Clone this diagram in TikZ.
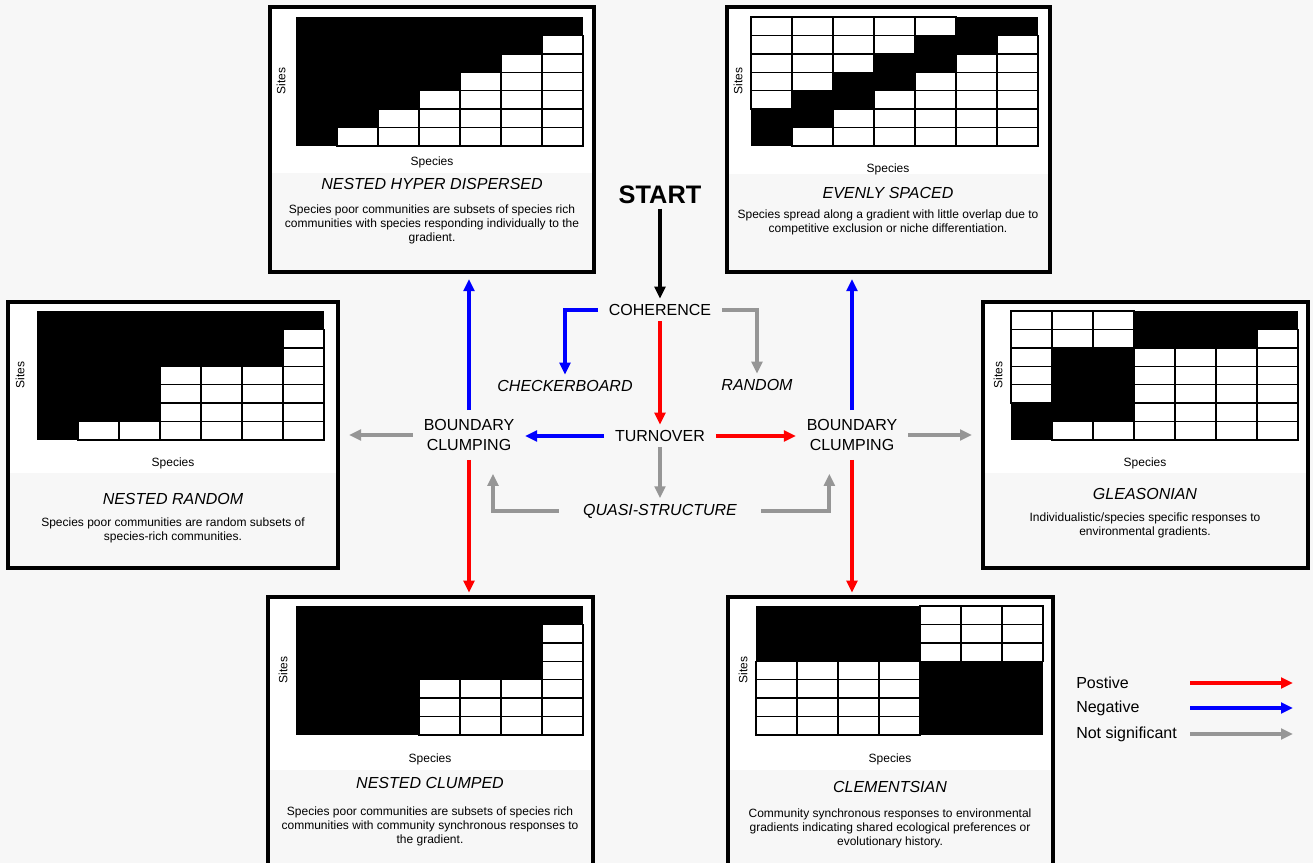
\documentclass[tikz,border=0pt]{standalone}
\usepackage{fontspec}
\setmainfont{Liberation Sans}
\usetikzlibrary{arrows.meta,fit}

\definecolor{bggrey}{RGB}{247,247,247}
\definecolor{posred}{RGB}{255,0,0}
\definecolor{negblue}{RGB}{0,0,255}
\definecolor{nsgrey}{RGB}{150,150,150}

\tikzset{
	panel/.style={draw=black, line width=2.5pt, inner sep=0pt},
	cellline/.style={draw=black, line width=1.1pt},
	sitelab/.style={rotate=90, font=\fontsize{9}{10}\selectfont},
	axislab/.style={font=\fontsize{9}{10}\selectfont},
	ptitle/.style={font=\fontsize{12}{14}\selectfont\itshape},
	pdesc/.style={align=center, font=\fontsize{9}{10.5}\selectfont},
	stage/.style={align=center, inner xsep=8pt, inner ysep=4pt, font=\fontsize{12}{14.3}\selectfont},
	outcome/.style={inner xsep=8pt, inner ysep=4pt, font=\fontsize{12}{14.3}\selectfont\itshape},
	legendlab/.style={anchor=west, inner sep=0pt, font=\fontsize{12}{14}\selectfont},
	flow/.style={line width=3pt, -{Triangle[length=9pt,width=8pt]}},
	posarrow/.style={flow, draw=posred},
	negarrow/.style={flow, draw=negblue},
	nsarrow/.style={flow, draw=nsgrey},
}

% black block with white cells given as row/first column/last column
\newcommand{\cellgrid}[3]{
	\fill[black] (#1,#2) rectangle ++(287,129);
	\foreach \r/\a/\b in {#3}
		\foreach \c in {\a,...,\b}
			\draw[cellline, fill=white] ({#1+(\c-1)*41},{#2+(\r-1)*18.43}) rectangle ++(41,18.43);
}

\begin{document}
\begin{tikzpicture}[x=0.75pt, y=-0.75pt]
	\clip (0,0) rectangle (1313,863);
	\fill[bggrey] (0,0) rectangle (1313,863);

	% nested hyper dispersed
	\fill[white] (270,7) rectangle (594,173);
	\cellgrid{296}{17}{2/7/7,3/6/7,4/5/7,5/4/7,6/3/7,7/2/7}
	\node[sitelab] (nhdsites) at (281,81) {Sites};
	\node[axislab] (nhdspecies) at (432,162) {Species};
	\node[ptitle] (nhdtitle) at (432,184) {NESTED HYPER DISPERSED};
	\node[pdesc] (nhddesc) at (432,224) {Species poor communities are subsets of species rich\\communities with species responding individually to the\\gradient.};
	\node[panel, fit={(270,7) (594,272)}] (nhd) {};

	% evenly spaced
	\fill[white] (727,7) rectangle (1050,174);
	\cellgrid{751}{17}{1/1/5,2/1/4,2/7/7,3/1/3,3/6/7,4/1/2,4/5/7,5/1/1,5/4/7,6/3/7,7/2/7}
	\node[sitelab] (essites) at (738,81) {Sites};
	\node[axislab] (esspecies) at (888,169) {Species};
	\node[ptitle] (estitle) at (888,193) {EVENLY SPACED};
	\node[pdesc] (esdesc) at (888,222) {Species spread along a gradient with little overlap due to\\competitive exclusion or niche differentiation.};
	\node[panel, fit={(727,7) (1050,272)}] (es) {};

	% nested random
	\fill[white] (8,302) rectangle (338,473);
	\cellgrid{37}{311}{2/7/7,3/7/7,4/4/7,5/4/7,6/4/7,7/2/7}
	\node[sitelab] (nrsites) at (20,375) {Sites};
	\node[axislab] (nrspecies) at (173,463) {Species};
	\node[ptitle] (nrtitle) at (173,499) {NESTED RANDOM};
	\node[pdesc] (nrdesc) at (173,530) {Species poor communities are random subsets of\\species-rich communities.};
	\node[panel, fit={(8,302) (338,568)}] (nr) {};

	% gleasonian
	\fill[white] (983,302) rectangle (1308,473);
	\cellgrid{1011}{311}{1/1/3,2/1/3,2/7/7,3/1/1,3/4/7,4/1/1,4/4/7,5/1/1,5/4/7,6/4/7,7/2/7}
	\node[sitelab] (glsites) at (998,375) {Sites};
	\node[axislab] (glspecies) at (1145,463) {Species};
	\node[ptitle] (gltitle) at (1145,494) {GLEASONIAN};
	\node[pdesc] (gldesc) at (1145,525) {Individualistic/species specific responses to\\environmental gradients.};
	\node[panel, fit={(983,302) (1308,568)}] (gl) {};

	% nested clumped
	\fill[white] (268,597) rectangle (593,770);
	\cellgrid{296}{606}{2/7/7,3/7/7,4/7/7,5/4/7,6/4/7,7/4/7}
	\node[sitelab] (ncsites) at (283,670) {Sites};
	\node[axislab] (ncspecies) at (430,759) {Species};
	\node[ptitle] (nctitle) at (430,783) {NESTED CLUMPED};
	\node[pdesc] (ncdesc) at (430,826) {Species poor communities are subsets of species rich\\communities with community synchronous responses to\\the gradient.};
	\node[panel, fit={(268,597) (593,875)}] (nc) {};

	% clementsian
	\fill[white] (728,597) rectangle (1053,770);
	\cellgrid{756}{606}{1/5/7,2/5/7,3/5/7,4/1/4,5/1/4,6/1/4,7/1/4}
	\node[sitelab] (clsites) at (743,670) {Sites};
	\node[axislab] (clspecies) at (890,759) {Species};
	\node[ptitle] (cltitle) at (890,787) {CLEMENTSIAN};
	\node[pdesc] (cldesc) at (890,828) {Community synchronous responses to environmental\\gradients indicating shared ecological preferences or\\evolutionary history.};
	\node[panel, fit={(728,597) (1053,875)}] (cl) {};

	% decision steps
	\node[font=\fontsize{19}{22}\selectfont\bfseries] (start) at (660,195) {START};
	\node[stage] (coh) at (660,310) {COHERENCE};
	\node[outcome] (checker) at (565,386) {CHECKERBOARD};
	\node[outcome] (random) at (757,385) {RANDOM};
	\node[stage] (turn) at (660,436) {TURNOVER};
	\node[stage, inner ysep=7pt] (bcl) at (469,435) {BOUNDARY\\CLUMPING};
	\node[stage, inner ysep=7pt] (bcr) at (852,435) {BOUNDARY\\CLUMPING};
	\node[outcome] (quasi) at (660,511) {QUASI-STRUCTURE};

	\draw[flow, draw=black] (start) -- (coh);
	\draw[negarrow] (coh.west) -| (checker.north);
	\draw[nsarrow] (coh.east) -| (random.north);
	\draw[posarrow] (coh) -- (turn);
	\draw[negarrow] (turn.west) -- (turn.west -| bcl.east);
	\draw[posarrow] (turn.east) -- (turn.east -| bcr.west);
	\draw[nsarrow] (turn) -- (quasi);
	\draw[nsarrow] ([xshift=-10pt]quasi.west) -| ([xshift=18pt,yshift=-10.5pt]bcl.south);
	\draw[nsarrow] ([xshift=10pt]quasi.east) -| ([xshift=-17pt,yshift=-10.5pt]bcr.south);

	\draw[negarrow, shorten >=4pt] (bcl.north) -- (bcl.north |- nhd.south);
	\draw[nsarrow, shorten >=7pt] (bcl.west) -- (bcl.west -| nr.east);
	\draw[posarrow, shorten >=2pt] (bcl.south) -- (bcl.south |- nc.north);
	\draw[negarrow, shorten >=4pt] (bcr.north) -- (bcr.north |- es.south);
	\draw[nsarrow, shorten >=7pt] (bcr.east) -- (bcr.east -| gl.west);
	\draw[posarrow, shorten >=2pt] (bcr.south) -- (bcr.south |- cl.north);

	% legend
	\coordinate (legtail) at (1190,0);
	\coordinate (leghead) at (1293,0);
	\node[legendlab] (lpos) at (1076,683) {Postive};
	\node[legendlab] (lneg) at (1076,708) {Negative};
	\node[legendlab] (lns) at (1076,734) {Not significant};
	\draw[posarrow] (lpos -| legtail) -- (lpos -| leghead);
	\draw[negarrow] (lneg -| legtail) -- (lneg -| leghead);
	\draw[nsarrow] (lns -| legtail) -- (lns -| leghead);
\end{tikzpicture}
\end{document}
